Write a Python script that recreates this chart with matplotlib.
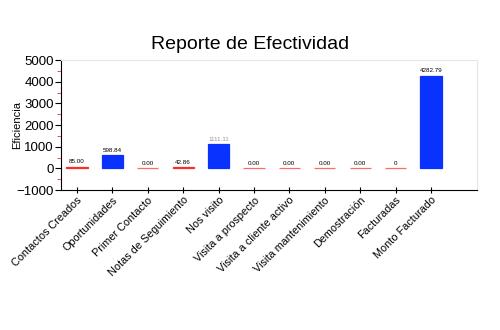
import matplotlib.pyplot as plt
from matplotlib.ticker import MultipleLocator

# Datos del reporte
CATEGORIAS = [
    "Contactos Creados", "Oportunidades", "Primer Contacto",
    "Notas de Seguimiento", "Nos visito", "Visita a prospecto",
    "Visita a cliente activo", "Visita mantenimiento", "Demostración",
    "Facturadas", "Monto Facturado",
]
VALORES = [85.00, 598.84, 0.00, 42.86, 1111.11, 0.00, 0.00, 0.00, 0.00, 0, 4282.79]
ETIQUETAS = ["85.00", "598.84", "0.00", "42.86", "1111.11", "0.00", "0.00",
             "0.00", "0.00", "0", "4282.79"]

AZUL = "#0a32ff"
ROJO = "#ff2a2a"
ROJO_CLARO = "#ff6b6b"

plt.rcParams["font.family"] = ["Liberation Sans", "DejaVu Sans"]

fig = plt.figure(figsize=(5, 3.3), dpi=100)
ax = fig.add_axes([0.122, 0.424, 0.832, 0.394])

x = list(range(len(CATEGORIAS)))
colores = [AZUL if v >= 500 else (ROJO if v > 0 else ROJO_CLARO) for v in VALORES]
ax.bar(x, VALORES, width=0.6, color=colores, edgecolor=colores, linewidth=0.9)

for xi, v, txt in zip(x, VALORES, ETIQUETAS):
    col = "#999999" if txt == "1111.11" else "black"
    ax.text(xi, v + 110, txt, ha="center", va="bottom", fontsize=4.5, color=col)

ax.set_xlim(-0.45, 11.3)
ax.set_ylim(-1000, 5000)
ax.yaxis.set_major_locator(MultipleLocator(1000))
ax.yaxis.set_minor_locator(MultipleLocator(500))
ax.tick_params(axis="y", which="major", labelsize=9.5, length=4, color="black", pad=1)
ax.tick_params(axis="y", which="minor", length=3, color=ROJO)
ax.tick_params(axis="x", direction="inout", length=5, labelsize=7.8, pad=1)

ax.set_xticks(x)
ax.set_xticklabels(CATEGORIAS, rotation=45, ha="right", rotation_mode="anchor")
ax.set_ylabel("Eficiencia", fontsize=8, labelpad=-4)

for lado in ("top", "right"):
    ax.spines[lado].set_color("#e6e6e6")
for lado in ("left", "bottom"):
    ax.spines[lado].set_color("black")

fig.suptitle("Reporte de Efectividad", x=0.5, y=0.89, fontsize=14)

fig.savefig("out.png", dpi=100)
